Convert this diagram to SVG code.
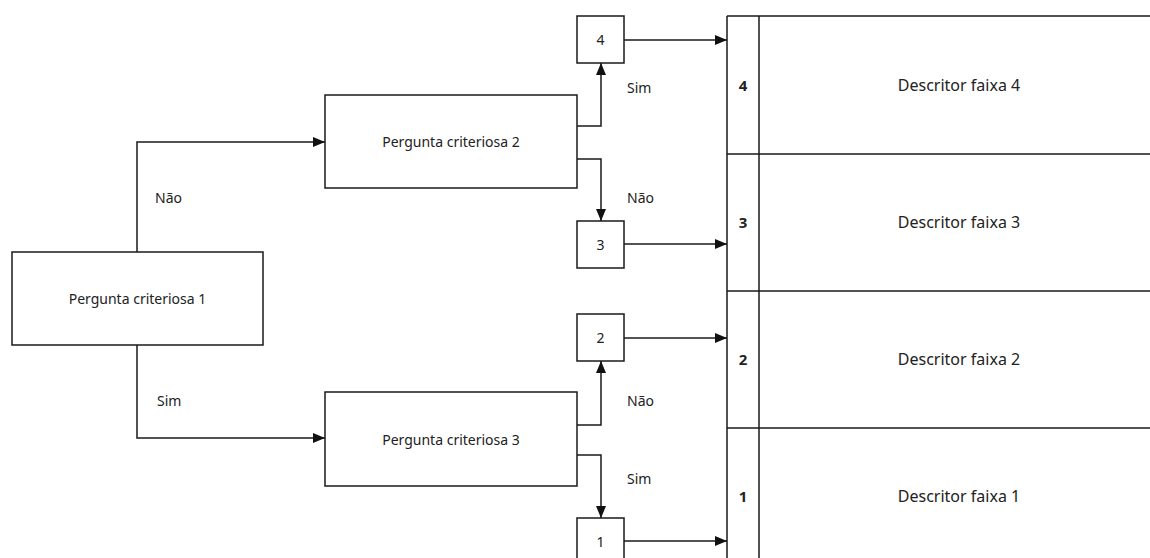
<svg xmlns="http://www.w3.org/2000/svg" width="1150" height="558" viewBox="0 0 1150 558">
<style>
.box{fill:#fff;stroke:#1a1a1a;stroke-width:1.5}
.ln{fill:none;stroke:#1a1a1a;stroke-width:1.5}
.t{font-family:"Noto Sans","Open Sans",sans-serif;font-size:14px;fill:#222}
.d{font-size:16px}
.c{text-anchor:middle;dominant-baseline:central}
.b{font-weight:bold;font-size:15px}
</style>
<defs>
<marker id="ah" markerWidth="12" markerHeight="10" refX="12" refY="5" orient="auto" markerUnits="userSpaceOnUse">
<path d="M0,0 L12,5 L0,10 Z" fill="#111"/>
</marker>
</defs>
<rect width="1150" height="558" fill="#fff"/>
<g id="table">
<path class="ln" d="M727,16 H1150 M727,16 V558 M759,16 V558 M727,154 H1150 M727,291 H1150 M727,428 H1150"/>
<text class="t c b" x="743" y="85">4</text>
<text class="t c d" x="959" y="85">Descritor faixa 4</text>
<text class="t c b" x="743" y="222">3</text>
<text class="t c d" x="959" y="222">Descritor faixa 3</text>
<text class="t c b" x="743" y="359">2</text>
<text class="t c d" x="959" y="359">Descritor faixa 2</text>
<text class="t c b" x="743" y="496">1</text>
<text class="t c d" x="959" y="496">Descritor faixa 1</text>
</g>
<g id="connectors">
<path class="ln" d="M137,252 V142 H325" marker-end="url(#ah)"/>
<path class="ln" d="M137,345 V438 H325" marker-end="url(#ah)"/>
<path class="ln" d="M577,126 H601 V63" marker-end="url(#ah)"/>
<path class="ln" d="M577,159 H601 V221" marker-end="url(#ah)"/>
<path class="ln" d="M577,425 H601 V361" marker-end="url(#ah)"/>
<path class="ln" d="M577,455 H601 V518" marker-end="url(#ah)"/>
<path class="ln" d="M624,40 H727" marker-end="url(#ah)"/>
<path class="ln" d="M624,244 H727" marker-end="url(#ah)"/>
<path class="ln" d="M624,338 H727" marker-end="url(#ah)"/>
<path class="ln" d="M624,541 H727" marker-end="url(#ah)"/>
<text class="t" x="155" y="203">Não</text>
<text class="t" x="157" y="406">Sim</text>
<text class="t" x="627" y="93">Sim</text>
<text class="t" x="627" y="203">Não</text>
<text class="t" x="627" y="406">Não</text>
<text class="t" x="627" y="484">Sim</text>
</g>
<g id="pc1">
<rect class="box" x="12" y="252" width="251" height="93"/>
<text class="t c" x="137.5" y="298.5">Pergunta criteriosa 1</text>
</g>
<g id="pc2">
<rect class="box" x="325" y="95" width="252" height="93"/>
<text class="t c" x="451" y="141.5">Pergunta criteriosa 2</text>
</g>
<g id="pc3">
<rect class="box" x="325" y="392" width="252" height="94"/>
<text class="t c" x="451" y="439">Pergunta criteriosa 3</text>
</g>
<g id="n4">
<rect class="box" x="577" y="16" width="47" height="47"/>
<text class="t c" x="600.5" y="39.5">4</text>
</g>
<g id="n3">
<rect class="box" x="577" y="221" width="47" height="47"/>
<text class="t c" x="600.5" y="244.5">3</text>
</g>
<g id="n2">
<rect class="box" x="577" y="314" width="47" height="47"/>
<text class="t c" x="600.5" y="337.5">2</text>
</g>
<g id="n1">
<rect class="box" x="577" y="518" width="47" height="47"/>
<text class="t c" x="600.5" y="541.5">1</text>
</g>
</svg>
